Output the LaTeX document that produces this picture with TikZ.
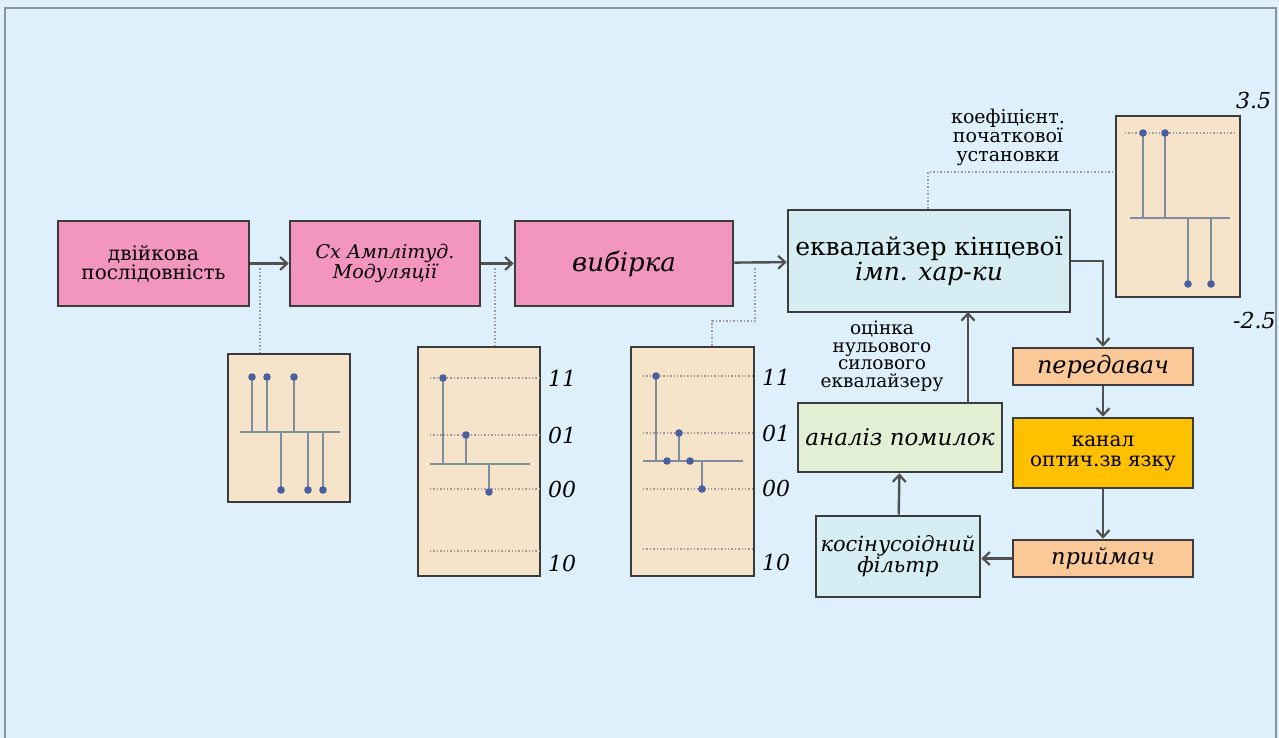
\documentclass[tikz,border=0pt]{standalone}
\usepackage{fontspec}
\setmainfont{DejaVu Serif}
\usetikzlibrary{arrows.meta}
\definecolor{bg}{HTML}{DDF0FB}
\definecolor{pinkc}{HTML}{F295BF}
\definecolor{cyanc}{HTML}{D6EEF3}
\definecolor{greenc}{HTML}{E3EFD5}
\definecolor{orangec}{HTML}{FBC897}
\definecolor{yellowc}{HTML}{FFC000}
\definecolor{beigec}{HTML}{F5E4C9}
\definecolor{edgec}{HTML}{3C3C3C}
\definecolor{stemc}{HTML}{7F8C9D}
\definecolor{dotc}{HTML}{4B5E9E}
\definecolor{gridc}{HTML}{9A9A9A}
\definecolor{framec}{HTML}{8A9499}
\tikzset{
  box/.style={draw=edgec, line width=2.6pt, inner sep=0pt, align=center},
  chart/.style={draw=edgec, line width=2.6pt, fill=beigec, inner sep=0pt},
  arr/.style={draw=edgec!90, line width=2.4pt, -{Straight Barb[length=7pt,width=13pt,line width=2.2pt]}},
  link/.style={draw=gridc, dotted, line width=1.5pt},
  grid/.style={draw=gridc, dotted, line width=1.4pt},
  axis/.style={draw=stemc, line width=2.2pt},
  stem/.style={draw=stemc, line width=2.2pt},
  lbl/.style={font=\itshape\fontsize{22}{22}\selectfont, inner sep=0pt, anchor=west},
}
\newcommand{\stemdot}[1]{\fill[dotc] #1 circle (3.8pt);}
\begin{document}
\begin{tikzpicture}[x=1pt,y=-1pt]
\useasboundingbox (0,0) rectangle (1279,738);
\fill[bg] (0,0) rectangle (1279,738);
\draw[framec, line width=2.2pt] (5,745) -- (5,8) -- (1276,8) -- (1276,745);

% main chain
\node[box, fill=pinkc, minimum width=191pt, minimum height=85pt,
  font=\fontsize{20}{19}\selectfont] (b1) at (153.5,263.5) {двійкова\\послідовність};
\node[box, fill=pinkc, minimum width=190pt, minimum height=85pt,
  font=\itshape\fontsize{19}{18}\selectfont] (b2) at (385,263.5) {Сх Амплітуд.\\Модуляції};
\node[box, fill=pinkc, minimum width=218pt, minimum height=85pt,
  font=\itshape\fontsize{26}{26}\selectfont] (b3) at (624,263.5) {вибірка};
\node[box, fill=cyanc, minimum width=282pt, minimum height=102pt,
  font=\fontsize{25}{22}\selectfont] (b4) at (929,261) {еквалайзер кінцевої\\\itshape імп. хар-ки};

\node[box, fill=orangec, minimum width=180pt, minimum height=37pt,
  font=\itshape\fontsize{24}{24}\selectfont] (tx) at (1103,366.5) {передавач};
\node[box, fill=yellowc, minimum width=180pt, minimum height=70pt,
  font=\fontsize{20}{20}\selectfont] (ch) at (1103,453) {канал\\оптич.зв язку};
\node[box, fill=orangec, minimum width=180pt, minimum height=37pt,
  font=\itshape\fontsize{22.5}{22}\selectfont] (rx) at (1103,558.5) {приймач};
\node[box, fill=cyanc, minimum width=164pt, minimum height=81pt,
  font=\itshape\fontsize{21}{21}\selectfont] (cf) at (898,556.5) {косінусоідний\\фільтр};
\node[box, fill=greenc, minimum width=204pt, minimum height=69pt,
  font=\itshape\fontsize{23}{23}\selectfont] (ea) at (900,437.5) {аналіз помилок};

\node[align=center, inner sep=0pt, font=\fontsize{18.5}{17.5}\selectfont] (est) at (882,356)
  {оцінка\\нульового\\силового\\еквалайзеру};
\node[align=center, inner sep=0pt, font=\fontsize{19}{18.5}\selectfont] (coef) at (1008,137)
  {коефіцієнт.\\початкової\\установки};

% connectors
\draw[arr] (b1) -- (b2);
\draw[arr] (b2) -- (b3);
\draw[arr] (b3) -- (b4);
\draw[arr] (b4.east) -| (tx.north);
\draw[arr] (tx) -- (ch);
\draw[arr] (ch) -- (rx);
\draw[arr] (rx.west) -- (rx.west -| cf.east);
\draw[arr] (cf) -- (ea);
\coordinate (eaup) at (968,403);
\coordinate (b4dn) at (968,312);
\draw[arr] (eaup) -- (b4dn);

% charts
\node[chart, minimum width=122pt, minimum height=148pt] (c1) at (289,428) {};
\node[chart, minimum width=122pt, minimum height=229pt] (c2) at (479,461.5) {};
\node[chart, minimum width=123pt, minimum height=229pt] (c3) at (692.5,461.5) {};
\node[chart, minimum width=124pt, minimum height=181pt] (c4) at (1178,206.5) {};

% dotted links
\coordinate (p1) at (260,268);
\draw[link] (p1) -- (p1 |- c1.north);
\coordinate (p2) at (495,268);
\draw[link] (p2) -- (p2 |- c2.north);
\coordinate (p3) at (755,268);
\coordinate (p3a) at (755,321);
\coordinate (p3b) at (712,321);
\draw[link] (p3) -- (p3a) -- (p3b) -- (p3b |- c3.north);
\coordinate (p4) at (928,172);
\draw[link] (b4.north -| p4) -- (p4) -- (p4 -| c4.west);

% chart 1
\draw[axis] (240,432) -- (340,432);
\foreach \x in {252,267,294} {\draw[stem] (\x,432) -- (\x,377); \stemdot{(\x,377)}}
\foreach \x in {281,308,323} {\draw[stem] (\x,432) -- (\x,490); \stemdot{(\x,490)}}

% chart 2
\foreach \y in {378,435,489,551} {\draw[grid] (430,\y) -- (540,\y);}
\draw[axis] (430,464) -- (530,464);
\draw[stem] (443,464) -- (443,378); \stemdot{(443,378)}
\draw[stem] (466,464) -- (466,435); \stemdot{(466,435)}
\draw[stem] (489,464) -- (489,492); \stemdot{(489,492)}
\node[lbl] (l21) at (548,378) {11};
\node[lbl] (l22) at (548,435) {01};
\node[lbl] (l23) at (548,489) {00};
\node[lbl] (l24) at (548,563) {10};

% chart 3
\foreach \y in {376,433,489,549} {\draw[grid] (643,\y) -- (754,\y);}
\draw[axis] (643,461) -- (743,461);
\draw[stem] (656,461) -- (656,376); \stemdot{(656,376)}
\stemdot{(667,461)}
\draw[stem] (679,461) -- (679,433); \stemdot{(679,433)}
\stemdot{(690,461)}
\draw[stem] (702,461) -- (702,489); \stemdot{(702,489)}
\node[lbl] (l31) at (762,377) {11};
\node[lbl] (l32) at (762,433) {01};
\node[lbl] (l33) at (762,488) {00};
\node[lbl] (l34) at (762,562) {10};

% chart 4
\draw[grid] (1125,133) -- (1236,133);
\draw[axis] (1130,218) -- (1230,218);
\foreach \x in {1143,1165} {\draw[stem] (\x,218) -- (\x,133); \stemdot{(\x,133)}}
\foreach \x in {1188,1211} {\draw[stem] (\x,218) -- (\x,284); \stemdot{(\x,284)}}
\node[lbl] (l41) at (1236,100) {3.5};
\node[lbl] (l42) at (1233,320) {-2.5};
\end{tikzpicture}
\end{document}
